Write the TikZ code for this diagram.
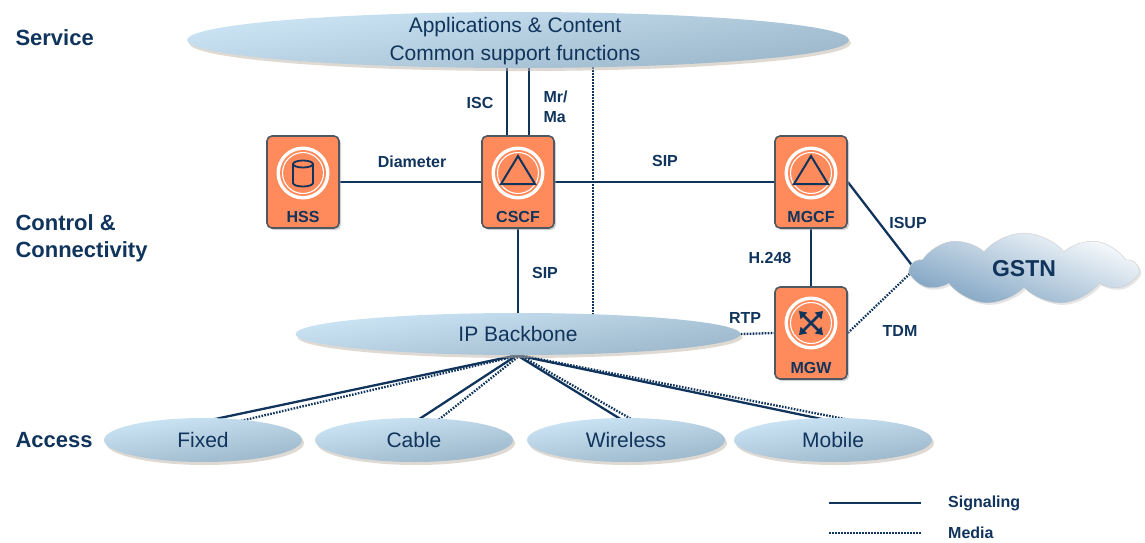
\documentclass[tikz,border=0pt]{standalone}
\usepackage{fontspec}
\setmainfont{Liberation Sans}
\usepackage{tikz}
\usetikzlibrary{calc}
\usetikzlibrary{positioning}
\usetikzlibrary{shapes.geometric}
\usetikzlibrary{shapes.symbols}
\usetikzlibrary{shadows}
\usetikzlibrary{backgrounds}
\usetikzlibrary{arrows.meta}
\definecolor{navy}{HTML}{10345C}
\definecolor{boxorange}{HTML}{FF8A5B}
\definecolor{boxedge}{HTML}{4F5760}
\definecolor{elllight}{HTML}{CDE7F7}
\definecolor{elldark}{HTML}{9BB5C9}
\definecolor{cloudblue}{HTML}{7FA3C2}
\definecolor{shadowtan}{HTML}{BDB3A6}
\tikzset{
   signal/.style={draw=navy, line width=2.3pt},
   media/.style={draw=navy, line width=2.3pt, dash pattern=on 1.6pt off 1.4pt},
   tierell/.style={ellipse, top color=elllight, bottom color=elldark, shading angle=8,
      drop shadow={shadow xshift=2pt, shadow yshift=-3pt, fill=shadowtan},
      text=navy, font=\fontsize{21}{25}\selectfont},
   nebox/.style={rectangle, rounded corners=5pt, fill=boxorange, draw=boxedge, line width=1.6pt,
      minimum width=72pt, minimum height=92pt,
      drop shadow={shadow xshift=2pt, shadow yshift=-2pt, fill=black!35}},
   netext/.style={text=navy, font=\bfseries\fontsize{16}{18}\selectfont},
   tier/.style={text=navy, anchor=west, align=left, font=\bfseries\fontsize{22}{27}\selectfont},
   iflabel/.style={text=navy, align=left, font=\bfseries\fontsize{16}{20}\selectfont},
}
\begin{document}
\begin{tikzpicture}[x=1pt,y=-1pt]
        \useasboundingbox (0,0) rectangle (1145,542);
        % tiers
        \node[tier] (service) at (12,38) {Service};
        \node[tier] (control) at (12,238) {Control \&\\Connectivity};
        \node[tier] (access) at (12,440) {Access};

        % ellipses
        \node[tierell, minimum width=662pt, minimum height=56pt] (app) at (518,40) {};
        \node[text=navy, align=center, font=\fontsize{21}{28}\selectfont] (app-t) at (515,41) {Applications \& Content\\Common support functions};
        \node[tierell, minimum width=445pt, minimum height=42pt] (ipb) at (518,334) {IP Backbone};
        \foreach \n/\t/\x in {fixed/Fixed/203, cable/Cable/414, wireless/Wireless/626, mobile/Mobile/833}
            \node[tierell, minimum width=198pt, minimum height=44pt] (\n) at (\x,440) {\t};

        % cloud
        \node[cloud, cloud puffs=9, cloud puff arc=100, aspect=3, minimum width=226pt, minimum height=72pt,
            draw=black!20, top color=white!90!elllight, bottom color=cloudblue, shading angle=-20,
            drop shadow={shadow xshift=2pt, shadow yshift=-2pt, fill=black!20},
            text=navy, font=\bfseries\fontsize{23}{26}\selectfont] (gstn) at (1024,269) {GSTN};

        % boxes
        \node[nebox] (hss) at (303,182) {};
        \node[nebox] (cscf) at (518,182) {};
        \node[nebox] (mgcf) at (811,182) {};
        \node[nebox] (mgw) at (811,333) {};
        \foreach \n/\t/\dy in {hss/HSS/9, cscf/CSCF/9, mgcf/MGCF/9, mgw/MGW/10} {
            \node[netext] (\n-t) at ([yshift=12pt]\n.south) {\t};
            \coordinate (\n-i) at ($(\n)+(0,-\dy)$);
            \fill[white] (\n-i) circle (26.5);
            \fill[boxorange] (\n-i) circle (23);
            \draw[white, line width=1.1pt] (\n-i) circle (20.5);
        }
        % icons
        \draw[navy, line width=1.8pt] ($(hss-i)+(-10,-9)$) -- ($(hss-i)+(-10,10)$)
            arc[start angle=180, end angle=0, x radius=10, y radius=3.5] -- ($(hss-i)+(10,-9)$);
        \draw[navy, line width=1.8pt] ($(hss-i)+(0,-9)$) ellipse[x radius=10, y radius=3.5];
        \foreach \n in {cscf, mgcf}
            \draw[navy, line width=2pt, line join=miter] ($(\n-i)+(0,-17)$) -- ($(\n-i)+(-17,11)$) -- ($(\n-i)+(17,11)$) -- cycle;
        \foreach \a in {45,135,225,315}
            \draw[navy, line width=2.6pt, -{Triangle[length=7pt,width=9pt]}] (mgw-i) -- ++(\a:17);

        % interface labels
        \node[iflabel] (diam-t) at (412,162) {Diameter};
        \node[iflabel] (sip1-t) at (665,161) {SIP};
        \node[iflabel] (isc-t) at (480,103) {ISC};
        \node[iflabel, anchor=west] (mrma-t) at (540,107) {Mr/\\Ma};
        \node[iflabel] (sip2-t) at (545,273) {SIP};
        \node[iflabel] (h248-t) at (770,258) {H.248};
        \node[iflabel] (isup-t) at (908,223) {ISUP};
        \node[iflabel] (rtp-t) at (745,318) {RTP};
        \node[iflabel] (tdm-t) at (900,331) {TDM};

        % connectors
        \begin{pgfonlayer}{background}
            \draw[signal] (hss) -- (cscf) -- (mgcf);
            \draw[signal] ([xshift=-11pt]cscf.center) -- ([xshift=-11pt]app.center);
            \draw[signal] ([xshift=11pt]cscf.center) -- ([xshift=11pt]app.center);
            \draw[media] ([xshift=75pt]app.center) -- ([xshift=75pt]ipb.center);
            \draw[signal] (cscf) -- (ipb);
            \draw[signal] (mgcf) -- (mgw);
            \draw[signal] (mgcf.east) -- ([xshift=6pt]gstn.west);
            \draw[media] (mgw.east) -- ([xshift=6pt]gstn.west);
            \draw[media] (ipb.east) -- (mgw.west);
            \foreach \n/\s/\m in {fixed/-1/34, cable/1/22, wireless/-1/10, mobile/2/26} {
                \draw[signal] ([xshift=-1pt]ipb.south) -- ([xshift=\s pt, yshift=-4pt]\n.north);
                \draw[media] ([xshift=2pt]ipb.south) -- ([xshift=\m pt, yshift=-4pt]\n.north);
            }
        \end{pgfonlayer}

        % legend
        \coordinate (sig-a) at (829,503);
        \coordinate (sig-b) at (921,503);
        \coordinate (med-a) at (829,533);
        \coordinate (med-b) at (921,533);
        \draw[signal] (sig-a) -- (sig-b);
        \draw[media] (med-a) -- (med-b);
        \node[iflabel, inner sep=1pt, right=26pt of sig-b] (sig-t) {Signaling};
        \node[iflabel, inner sep=1pt, right=26pt of med-b] (med-t) {Media};
\end{tikzpicture}
\end{document}
